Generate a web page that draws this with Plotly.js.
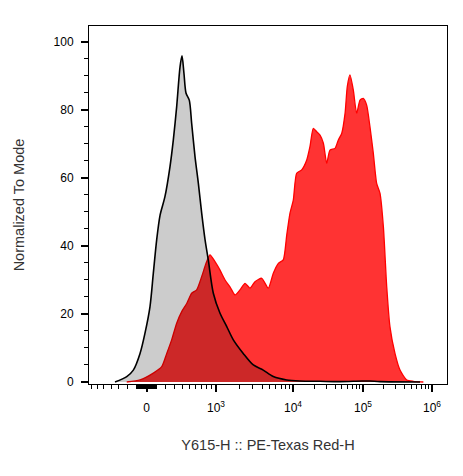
<!DOCTYPE html>
<html>
<head>
<meta charset="utf-8">
<script src="https://cdn.plot.ly/plotly-3.0.1.min.js"></script>
<style>html,body{margin:0;padding:0;background:#fff;}#chart{width:463px;height:476px;}</style>
</head>
<body>
<div id="chart"></div>
<script>
// Histogram bins in display channels (0-256 across the logicle axis), values in % of mode
const controlChannels = [18.6, 27.0, 31.7, 36.5, 40.0, 43.6, 46.0, 48.4, 50.8, 54.3, 57.9, 60.3, 62.7, 65.1, 66.5, 67.9, 69.4, 71.7, 73.4, 75.8, 78.2, 80.6, 83.0, 85.3, 88.9, 93.7, 98.5, 103.2, 110.3, 117.5, 124.6, 131.8, 141.4, 150.9, 165.2, 179.5, 195.0, 201.0, 208.1, 236.7];
const controlValues   = [0, 1.6, 3.5, 8.4, 14.3, 22.1, 32.0, 41.8, 49.0, 54.5, 63.3, 71.2, 81.0, 92.7, 95.9, 90.8, 84.9, 82.9, 76.1, 66.3, 58.4, 49.6, 41.8, 35.9, 26.1, 20.2, 16.3, 12.4, 8.4, 5.0, 3.5, 1.6, 0.6, 0.3, 0.2, 0.1, 0.3, 0.3, 0.1, 0];

const stainedChannels = [27.0, 36.5, 46.0, 52.0, 55.6, 59.1, 62.7, 66.3, 69.9, 73.4, 77.0, 80.6, 83.7, 86.5, 90.1, 93.7, 97.3, 100.8, 104.4, 108.0, 111.6, 115.1, 118.7, 123.5, 128.2, 131.8, 135.4, 138.9, 141.4, 143.7, 146.1, 148.5, 152.1, 155.7, 158.0, 160.4, 162.8, 165.2, 167.6, 170.0, 172.3, 175.9, 178.3, 180.7, 183.1, 184.7, 186.6, 189.0, 191.4, 193.8, 196.1, 198.5, 200.9, 203.3, 205.7, 208.1, 210.5, 212.9, 215.2, 218.8, 222.4, 227.2, 231.9, 239.1];
const stainedValues   = [0, 0.6, 2.6, 4.5, 8.4, 12.4, 17.3, 20.7, 23.1, 26.1, 27.1, 31.0, 34.9, 37.4, 35.4, 32.9, 30.0, 28.0, 25.6, 27.1, 29.0, 27.6, 29.5, 30.5, 27.6, 32.0, 34.9, 35.9, 43.2, 49.6, 53.5, 61.4, 62.4, 65.3, 69.2, 74.6, 73.6, 72.6, 70.2, 64.3, 68.2, 68.7, 71.2, 73.1, 79.0, 86.9, 90.3, 85.9, 79.0, 82.9, 83.4, 81.5, 75.1, 67.3, 58.4, 55.5, 45.7, 28.0, 16.3, 8.4, 3.5, 0.6, 0.2, 0];

// Logicle-like axis: fluorescence values and their display labels
const majorTickValues = [0, 1e3, 1e4, 1e5, 1e6];
const majorTickLabels = ['0', '10<sup>3</sup>', '10<sup>4</sup>', '10<sup>5</sup>', '10<sup>6</sup>'];
const decadeAnchors   = [[1e3, 90.82], [1e4, 145.88], [1e5, 195.93], [1e6, 245.27]];
const zeroChannel = 41.26, linWidth = 470;

function toChannel(v) {
  if (Math.abs(v) <= 1000) {
    return zeroChannel + (decadeAnchors[0][1] - zeroChannel) * Math.asinh(v / linWidth) / Math.asinh(1000 / linWidth);
  }
  for (let i = 0; i < decadeAnchors.length - 1; i++) {
    const [a, ca] = decadeAnchors[i], [b, cb] = decadeAnchors[i + 1];
    if (v <= b) return ca + (cb - ca) * Math.log10(v / a) / Math.log10(b / a);
  }
  return decadeAnchors[decadeAnchors.length - 1][1];
}

const minorVals = [];
for (let k = 1; k <= 9; k++) { minorVals.push(k * 10, -k * 10); }
for (let k = 1; k <= 9; k++) { minorVals.push(k * 100, -k * 100); }
for (let d = 1e3; d < 1e6; d *= 10) for (let k = 2; k <= 9; k++) minorVals.push(k * d);
const minorChannels = minorVals.map(toChannel).filter(c => c > 0.5 && c < 255.5);

const traces = [
  {
    x: stainedChannels, y: stainedValues, type: 'scatter', mode: 'lines',
    fill: 'tozeroy', fillcolor: 'rgb(255,51,51)',
    line: {color: 'rgb(255,0,0)', width: 1.3, shape: 'spline', smoothing: 0.6},
    hoverinfo: 'skip'
  },
  {
    x: controlChannels, y: controlValues, type: 'scatter', mode: 'lines',
    fill: 'tozeroy', fillcolor: 'rgba(0,0,0,0.2)',
    line: {color: '#000', width: 1.6, shape: 'spline', smoothing: 0.8},
    hoverinfo: 'skip'
  }
];

const font = 'Liberation Sans, Arial, sans-serif';
const layout = {
  width: 463, height: 476,
  margin: {l: 89, r: 16, t: 26, b: 92},
  paper_bgcolor: '#fff', plot_bgcolor: '#fff',
  showlegend: false,
  font: {family: font, color: '#222', size: 12},
  xaxis: {
    range: [0, 256], showgrid: false, zeroline: false,
    showline: true, linecolor: '#000', linewidth: 1, mirror: true,
    tickmode: 'array', tickvals: majorTickValues.map(toChannel), ticktext: majorTickLabels,
    ticks: 'outside', ticklen: 7, tickwidth: 2, tickcolor: '#000',
    ticklabelstandoff: 6,
    tickfont: {family: font, size: 12, color: '#000'},
    minor: {tickmode: 'array', tickvals: minorChannels, ticks: 'outside', ticklen: 4, tickwidth: 1, tickcolor: '#000', showgrid: false},
    title: {text: 'Y615-H :: PE-Texas Red-H', font: {family: font, size: 14.5, color: '#333'}, standoff: 25}
  },
  yaxis: {
    range: [-0.59, 104.7], showgrid: false, zeroline: false,
    showline: true, linecolor: '#000', linewidth: 1, mirror: true,
    tickmode: 'array', tickvals: [0, 20, 40, 60, 80, 100],
    ticks: 'outside', ticklen: 7, tickwidth: 2, tickcolor: '#000',
    ticklabelstandoff: 5,
    tickfont: {family: font, size: 12, color: '#000'},
    minor: {tickmode: 'linear', tick0: 0, dtick: 5, ticks: 'outside', ticklen: 4, tickwidth: 1, tickcolor: '#000', showgrid: false},
    title: {text: 'Normalized To Mode', font: {family: font, size: 14.5, color: '#333'}, standoff: 25}
  }
};

Plotly.newPlot('chart', traces, layout, {displayModeBar: false, staticPlot: true});
</script>
</body>
</html>
